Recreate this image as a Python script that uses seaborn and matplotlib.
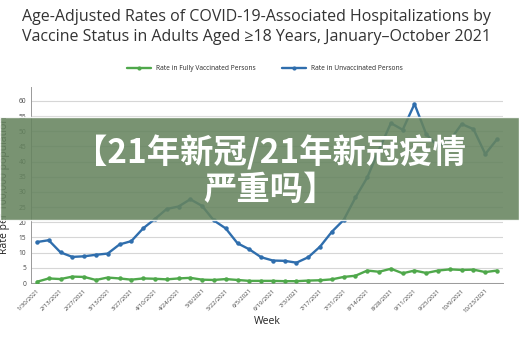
import numpy as np
import pandas as pd
import matplotlib
matplotlib.use("Agg")
import matplotlib.pyplot as plt
import seaborn as sns
from matplotlib.patches import Rectangle
from matplotlib.lines import Line2D

weeks = ["1/30/2021", "2/6/2021", "2/13/2021", "2/20/2021", "2/27/2021", "3/6/2021",
         "3/13/2021", "3/20/2021", "3/27/2021", "4/3/2021", "4/10/2021", "4/17/2021",
         "4/24/2021", "5/1/2021", "5/8/2021", "5/15/2021", "5/22/2021", "5/29/2021",
         "6/5/2021", "6/12/2021", "6/19/2021", "6/26/2021", "7/3/2021", "7/10/2021",
         "7/17/2021", "7/24/2021", "7/31/2021", "8/7/2021", "8/14/2021", "8/21/2021",
         "8/28/2021", "9/4/2021", "9/11/2021", "9/18/2021", "9/25/2021", "10/2/2021",
         "10/9/2021", "10/16/2021", "10/23/2021", "10/30/2021"]

vaccinated = [0.4, 1.5, 1.3, 2.1, 2.0, 1.0, 1.8, 1.5, 1.1, 1.5,
              1.4, 1.2, 1.5, 1.7, 1.1, 1.0, 1.3, 1.0, 0.7, 0.7,
              0.7, 0.6, 0.6, 0.8, 0.9, 1.2, 2.0, 2.4, 4.1, 3.7,
              4.7, 3.2, 4.1, 3.3, 4.1, 4.5, 4.3, 4.4, 3.6, 4.1]

unvaccinated = [13.5, 14.1, 10.1, 8.6, 8.8, 9.3, 9.7, 12.7, 13.8, 18.0,
                21.1, 24.4, 25.2, 27.6, 25.4, 20.6, 18.0, 13.1, 11.1, 8.5,
                7.4, 7.3, 6.7, 8.5, 12.0, 16.9, 20.8, 28.2, 34.8, 44.0,
                52.7, 50.5, 59.0, 49.0, 45.0, 47.0, 52.4, 50.7, 42.5, 47.4]

series_names = ["Rate in Fully Vaccinated Persons", "Rate in Unvaccinated Persons"]
colors = ["#4fa84b", "#2f6ead"]

title = ("Age-Adjusted Rates of COVID-19-Associated Hospitalizations by\n"
         "Vaccine Status in Adults Aged \u226518 Years, January\u2013October 2021")
banner_lines = ["\u301021\u5e74\u65b0\u51a0/21\u5e74\u65b0\u51a0\u75ab\u60c5", "\u4e25\u91cd\u5417\u3011"]

pos = np.arange(len(weeks))
df = pd.DataFrame({
    "pos": np.concatenate([pos, pos]),
    "rate": vaccinated + unvaccinated,
    "series": [series_names[0]] * len(weeks) + [series_names[1]] * len(weeks),
})

sns.set_style("white")
plt.rcParams["font.family"] = ["Open Sans", "DejaVu Sans"]

W, H = 519, 338
fig = plt.figure(figsize=(W / 100, H / 100), dpi=100)
ax = fig.add_axes([31 / W, 1 - 283 / H, (503 - 31) / W, (283 - 87) / H])

sns.lineplot(data=df, x="pos", y="rate", hue="series", palette=colors,
             marker="o", markersize=3.2, markeredgewidth=0, linewidth=1.7,
             legend=False, ax=ax, zorder=3)

ax.set_xlim(-0.5, len(weeks) - 0.5)
ax.set_ylim(0, 64.6)
ax.set_yticks(np.arange(0, 61, 5))
ax.set_yticklabels([str(v) for v in range(0, 61, 5)], fontsize=4.8, color="#444444")
ax.set_xticks(pos[::2])
ax.set_xticklabels(weeks[::2], rotation=45, ha="right", rotation_mode="anchor",
                   fontsize=4.3, color="#444444")
ax.tick_params(axis="both", length=2, width=0.6, color="#999999", pad=1.5)
ax.yaxis.grid(True, color="#d6d6d6", linewidth=0.8)
ax.xaxis.grid(False)
for s in ["top", "right"]:
    ax.spines[s].set_visible(False)
for s in ["left", "bottom"]:
    ax.spines[s].set_color("#999999")
    ax.spines[s].set_linewidth(0.7)

ax.set_xlabel("Week", fontsize=7.5, color="#222222", labelpad=3)
ax.set_ylabel("Rate per 100,000 population", fontsize=7.5, color="#222222", labelpad=6)
ax.xaxis.set_label_coords(0.5, -0.17)

fig.text(22 / W, 1 - 9 / H, title, ha="left", va="top", fontsize=11.5,
         color="#333333", linespacing=1.35)

handles = [Line2D([0], [0], color=c, lw=1.7, marker="o", markersize=3, markeredgewidth=0)
           for c in colors]
fig.legend(handles, series_names, loc="center", bbox_to_anchor=(265 / W, 1 - 69 / H),
           ncol=2, frameon=False, fontsize=4.8, handlelength=3.5, columnspacing=4,
           handletextpad=0.8)

fig.patches.append(Rectangle((0, 1 - 220 / H), 1, 103 / H, transform=fig.transFigure,
                             facecolor="#66845f", alpha=0.88, zorder=10))
fig.text(270 / W, 1 - 153 / H, banner_lines[0], ha="center", va="center",
         fontsize=24, fontweight="heavy", color="white", zorder=11,
         family=["Noto Sans CJK SC", "DejaVu Sans"])
fig.text(270 / W, 1 - 190 / H, banner_lines[1], ha="center", va="center",
         fontsize=24, fontweight="heavy", color="white", zorder=11,
         family=["Noto Sans CJK SC", "DejaVu Sans"])

fig.savefig("out.png", dpi=100)
